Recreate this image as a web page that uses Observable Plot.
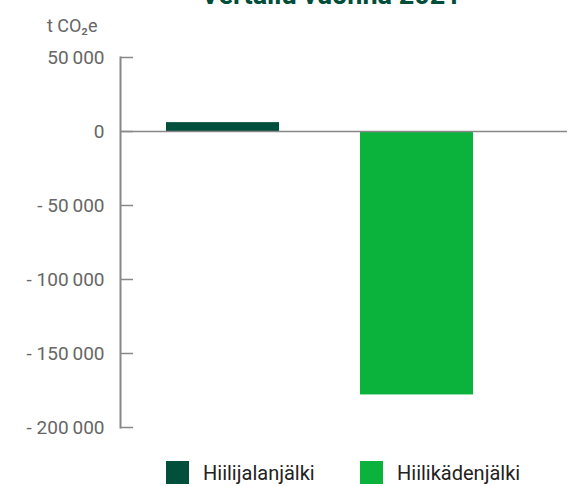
<!DOCTYPE html>
<html>
<head>
<meta charset="utf-8">
<script src="https://cdn.jsdelivr.net/npm/d3@7"></script>
<script src="https://cdn.jsdelivr.net/npm/@observablehq/plot@0.6"></script>
<style>
  body { margin: 0; background: #fff; }
  #wrap { position: relative; width: 570px; height: 487px; overflow: hidden; font-family: Roboto, "Noto Sans", sans-serif; }
  #title { position: absolute; top: -18px; left: 46px; width: 570px; text-align: center; font: bold 27px/27px Roboto, sans-serif; color: #004d3a; white-space: nowrap; }
  #chart { position: absolute; top: 0; left: 0; }
  .leg { position: absolute; top: 461px; height: 23px; display: flex; align-items: center; font-size: 20px; color: #222; }
  .leg span.sw { width: 23px; height: 23px; display: inline-block; margin-right: 14px; }
</style>
</head>
<body>
<div id="wrap">
  <div id="chart"></div>
  <div id="title"></div>
  <div id="legend"></div>
</div>
<script>
const title = "Vertailu vuonna 2021";
const unitLabel = "t CO₂e";
const categories = ["Hiilijalanjälki", "Hiilikädenjälki"];
const values = [6000, -178000];
const colors = ["#024f3c", "#0bb23c"];
const yTicks = [50000, 0, -50000, -100000, -150000, -200000];

const data = categories.map((c, i) => ({category: c, value: values[i]}));
const fmt = d => d === 0 ? "0" : (d < 0 ? "- " : "") + d3.format(",")(Math.abs(d)).replace(/,/g, "\u2009");

document.getElementById("title").textContent = title;

const plot = Plot.plot({
  width: 570,
  height: 445,
  marginLeft: 120,
  marginRight: 3,
  marginTop: 57,
  marginBottom: 18,
  style: {fontFamily: "Roboto, sans-serif", fontSize: "19px", color: "#666", background: "transparent", overflow: "visible"},
  x: {domain: categories, range: [120, 519], paddingInner: 0.4175, paddingOuter: 0.237, axis: null},
  y: {domain: [-200000, 50000], axis: null},
  color: {domain: categories, range: colors},
  marks: [
    Plot.barY(data, {x: "category", y: "value", fill: "category"}),
    Plot.ruleY([0], {stroke: "#888", strokeWidth: 1.5}),
    Plot.ruleY(yTicks, {stroke: "#888", strokeWidth: 1.5, insetRight: 434}),
    Plot.frame({anchor: "left", stroke: "#888", strokeWidth: 2}),
    Plot.axisY({ticks: yTicks, tickSize: 0, tickPadding: 16, tickFormat: fmt, label: null, fill: "#666", fontSize: 19}),
    Plot.text([unitLabel], {frameAnchor: "top-left", dx: -23, dy: -38, textAnchor: "end", fill: "#666", fontSize: 18})
  ]
});
document.getElementById("chart").appendChild(plot);

const legend = document.getElementById("legend");
const legX = [166, 360];
categories.forEach((c, i) => {
  const d = document.createElement("div");
  d.className = "leg";
  d.style.left = legX[i] + "px";
  const sw = document.createElement("span");
  sw.className = "sw";
  sw.style.background = colors[i];
  d.appendChild(sw);
  d.appendChild(document.createTextNode(c));
  legend.appendChild(d);
});
</script>
</body>
</html>
